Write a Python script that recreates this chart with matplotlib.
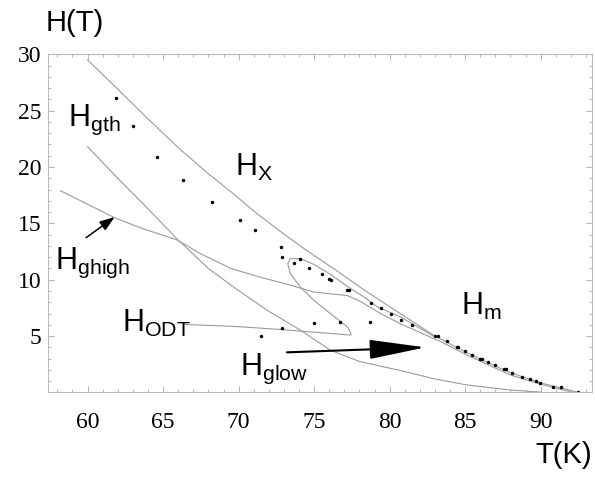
import numpy as np
import matplotlib
matplotlib.use('Agg')
import matplotlib.pyplot as plt
from matplotlib.ticker import MultipleLocator

plt.rcParams['mathtext.fontset'] = 'custom'
plt.rcParams['mathtext.rm'] = 'Liberation Sans'
plt.rcParams['mathtext.it'] = 'Liberation Sans'
plt.rcParams['mathtext.bf'] = 'Liberation Sans'

# measured points (T in K, H in T)
T_dots = [61.86, 62.99, 64.58, 66.35, 68.23, 70.06, 71.11, 72.80, 72.87, 73.64,
          74.09, 74.69, 75.53, 75.97, 76.09, 77.15, 77.33, 78.74, 79.45, 80.11,
          80.73, 81.46, 82.99, 83.17, 83.77, 84.43, 84.54, 85.00, 85.45, 86.00,
          86.10, 86.48, 86.97, 87.58, 87.70, 88.07, 88.75, 89.31, 89.69, 89.95,
          90.80, 91.35, 92.50, 71.45, 72.90, 75.00, 76.72, 78.67]
H_dots = [26.09, 23.67, 20.87, 18.89, 16.86, 15.27, 14.38, 12.90, 12.00, 11.52,
          11.87, 11.04, 10.49, 10.10, 10.00, 9.13, 9.13, 7.98, 7.51, 6.95,
          6.39, 6.03, 5.03, 5.03, 4.56, 4.00, 4.00, 3.64, 3.29, 2.99,
          2.99, 2.73, 2.41, 2.05, 2.05, 1.70, 1.40, 1.17, 1.05, 0.81,
          0.49, 0.49, 0.07, 5.00, 5.68, 6.15, 6.27, 6.27]

# H_X / H_m curve
T_hx = [60.0, 61.7, 63.9, 66.1, 68.0, 69.5, 71.0, 72.65, 74.5, 76.5, 78.3,
        80.7, 82.9, 84.5, 86.0, 88.0, 90.0, 91.5, 92.5]
H_hx = [29.5, 27.3, 24.4, 21.6, 19.4, 17.8, 16.1, 14.4, 12.6, 10.8, 9.1,
        7.0, 5.1, 3.95, 2.95, 1.75, 0.85, 0.35, 0.0]

# H_gth -> H_glow curve
T_gth = [60.0, 62.0, 64.0, 65.9, 68.0, 69.66, 71.88, 74.09, 76.08, 78.0,
         80.7, 83.0, 85.15, 88.0, 90.0]
H_gth = [21.8, 19.0, 16.3, 13.65, 11.0, 9.36, 7.3, 5.53, 3.75, 2.75,
         1.95, 1.2, 0.66, 0.22, 0.03]

# H_ghigh curve
T_gh = [58.2, 60.0, 61.8, 63.5, 65.9, 67.5, 69.5, 71.5, 73.1, 75.0, 77.2,
        78.1, 79.4, 80.7, 83.4, 85.15, 88.0, 90.2, 92.0]
H_gh = [17.9, 16.7, 15.5, 14.6, 13.55, 12.3, 11.0, 10.2, 9.65, 8.9, 8.6,
        8.05, 7.0, 6.1, 4.5, 3.3, 1.55, 0.66, 0.05]

# H_ODT with loop
T_odt = [66.48, 68.0, 69.44, 71.0, 72.76, 74.5, 76.08, 77.1, 77.45, 77.35,
         77.19, 76.08, 74.97, 74.09, 73.43, 73.25, 73.42, 74.09, 74.97, 76.08,
         77.19, 78.29, 79.18, 80.73, 82.9]
H_odt = [6.03, 5.95, 5.88, 5.75, 5.59, 5.4, 5.24, 5.12, 5.1, 5.5,
         5.83, 7.0, 8.19, 9.36, 10.55, 11.43, 11.87, 11.87, 11.37, 10.49,
         9.42, 8.48, 7.6, 6.7, 5.0]

fig = plt.figure(figsize=(5.95, 4.78), dpi=100)
ax = fig.add_axes([0.0812, 0.1789, 0.9138, 0.7075])

lc = '#9a9a9a'
for T, H in [(T_hx, H_hx), (T_gth, H_gth), (T_gh, H_gh), (T_odt, H_odt)]:
    ax.plot(T, H, color=lc, lw=0.8)
ax.plot(T_dots, H_dots, 'o', color='k', ms=2.5, mew=0)

# arrows
ax.annotate('', xy=(61.79, 15.56), xytext=(59.9, 13.73),
            arrowprops=dict(arrowstyle='-|>,head_length=0.9,head_width=0.32',
                            color='k', lw=1.1, shrinkA=0, shrinkB=0,
                            mutation_scale=10))
ax.annotate('', xy=(82.38, 4.0), xytext=(73.2, 3.56),
            arrowprops=dict(arrowstyle='-|>,head_length=1.75,head_width=0.3',
                            color='k', lw=1.5, shrinkA=0, shrinkB=0,
                            mutation_scale=20))

lab = dict(fontsize=22, family='Liberation Sans', va='baseline', ha='left')
ax.text(58.69, 23.67, r'$\mathregular{H_{gth}}$', **lab)
ax.text(69.79, 19.25, r'$\mathregular{H_{X}}$', **lab)
ax.text(57.83, 10.99, r'$\mathregular{H_{ghigh}}$', **lab)
ax.text(62.26, 5.38, r'$\mathregular{H_{ODT}}$', **lab)
ax.text(70.1, 1.55, r'$\mathregular{H_{glow}}$', **lab)
ax.text(84.7, 6.86, r'$\mathregular{H_{m}}$', **lab)

ax.set_xlim(57.4, 93.4)
ax.set_ylim(0, 30)
ax.set_xticks([60, 65, 70, 75, 80, 85, 90])
ax.set_yticks([5, 10, 15, 20, 25, 30])
ax.xaxis.set_minor_locator(MultipleLocator(1))
ax.yaxis.set_minor_locator(MultipleLocator(1))
ax.tick_params(which='both', direction='in', top=True, right=True,
               color='#aaaaaa', width=0.6, labelsize=17,
               labelfontfamily='Liberation Serif')
ax.tick_params(which='major', length=4)
ax.tick_params(which='minor', length=2)
ax.tick_params(axis='x', pad=14)
ax.tick_params(axis='y', pad=5)
for s in ax.spines.values():
    s.set_color('#bbbbbb')
    s.set_linewidth(0.8)

fig.text(0.077, 0.936, 'H(T)', fontsize=21, family='Liberation Sans',
         va='baseline', ha='left')
fig.text(0.995, 0.031, 'T(K)', fontsize=21, family='Liberation Sans',
         va='baseline', ha='right')

fig.savefig('out.png', dpi=100)
